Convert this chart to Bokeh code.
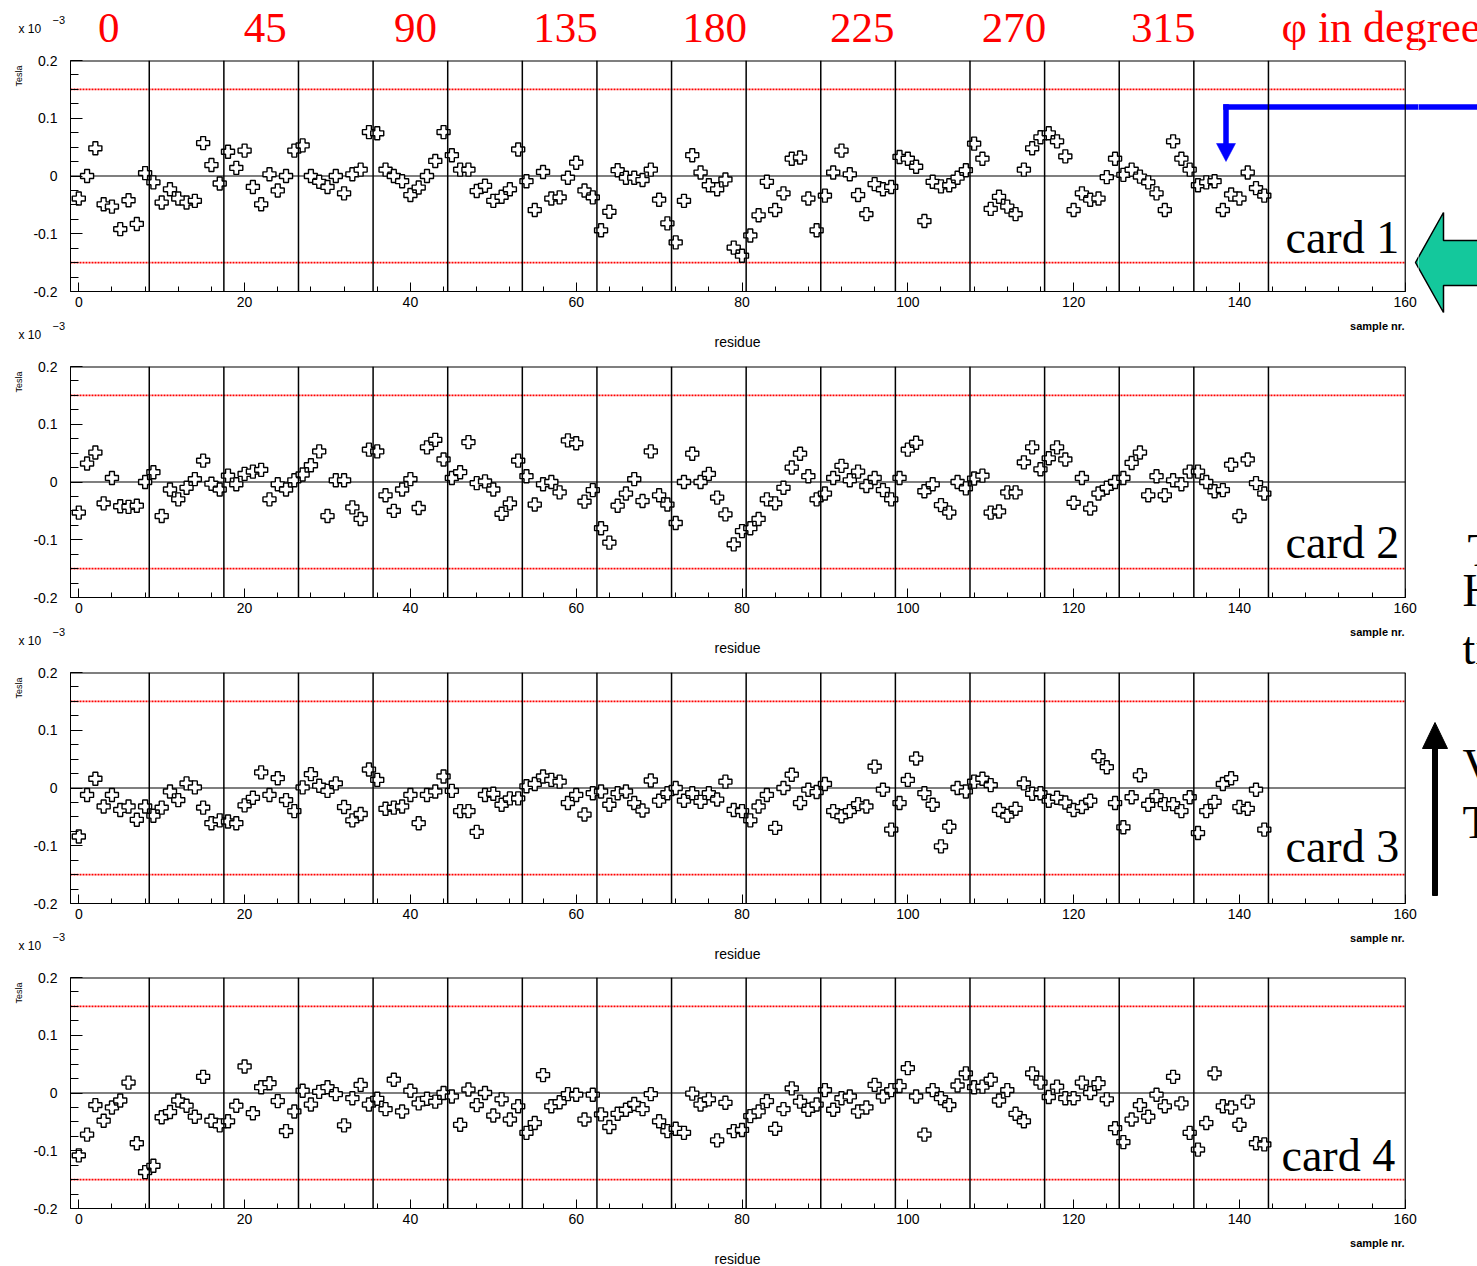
from bokeh.plotting import figure
from bokeh.models import (Span, Label, FixedTicker, Range1d, ColumnDataSource, Title)
from bokeh.layouts import column, row
from bokeh.embed import file_html
from bokeh.resources import INLINE

# ---- data: field residue per sample, in units of 1e-3 Tesla ----
samples = list(range(144))

card1 = [-0.039, 0.0, 0.048, -0.049, -0.053, -0.092, -0.042, -0.083, 0.005, -0.011,
         -0.046, -0.023, -0.039, -0.046, -0.043, 0.057, 0.019, -0.013, 0.042, 0.014,
         0.044, -0.019, -0.049, 0.003, -0.025, 0.0, 0.044, 0.053, 0.0, -0.01,
         -0.019, 0.0, -0.03, 0.003, 0.011, 0.076, 0.074, 0.011, 0.0, -0.009,
         -0.033, -0.02, 0.0, 0.026, 0.076, 0.036, 0.011, 0.011, -0.026, -0.017,
         -0.043, -0.036, -0.023, 0.046, -0.009, -0.059, 0.007, -0.039, -0.037, -0.003,
         0.023, -0.025, -0.037, -0.094, -0.062, 0.01, -0.003, -0.003, -0.007, 0.011,
         -0.041, -0.082, -0.115, -0.043, 0.036, 0.006, -0.016, -0.023, -0.006, -0.124,
         -0.138, -0.103, -0.068, -0.01, -0.059, -0.03, 0.03, 0.032, -0.039, -0.094,
         -0.034, 0.006, 0.044, 0.003, -0.033, -0.066, -0.014, -0.023, -0.019, 0.033,
         0.03, 0.016, -0.078, -0.01, -0.018, -0.016, -0.003, 0.01, 0.056, 0.03,
         -0.057, -0.036, -0.053, -0.066, 0.011, 0.048, 0.067, 0.074, 0.06, 0.034,
         -0.059, -0.03, -0.041, -0.039, -0.002, 0.03, 0.002, 0.011, -0.001, -0.011,
         -0.03, -0.059, 0.06, 0.03, 0.011, -0.016, -0.011, -0.009, -0.059, -0.032,
         -0.039, 0.006, -0.021, -0.034]

card2 = [-0.053, 0.032, 0.051, -0.037, 0.007, -0.042, -0.043, -0.041, 0.0, 0.017,
         -0.059, -0.013, -0.03, -0.01, 0.005, 0.037, -0.003, -0.013, 0.011, -0.004,
         0.014, 0.018, 0.021, -0.03, -0.004, -0.013, 0.003, 0.013, 0.029, 0.053,
         -0.059, 0.003, 0.003, -0.044, -0.064, 0.056, 0.053, -0.023, -0.05, -0.013,
         0.005, -0.045, 0.06, 0.073, 0.039, 0.007, 0.017, 0.069, -0.002, 0.001,
         -0.013, -0.055, -0.037, 0.037, 0.01, -0.039, -0.004, 0.0, -0.018, 0.072,
         0.067, -0.034, -0.014, -0.08, -0.105, -0.041, -0.02, 0.005, -0.033, 0.053,
         -0.023, -0.039, -0.071, 0.0, 0.049, 0.0, 0.014, -0.027, -0.056, -0.108,
         -0.085, -0.08, -0.064, -0.03, -0.037, -0.01, 0.025, 0.049, 0.01, -0.03,
         -0.02, 0.007, 0.028, 0.003, 0.018, -0.007, 0.007, -0.014, -0.03, 0.007,
         0.056, 0.068, -0.016, -0.004, -0.04, -0.053, 0.0, -0.011, 0.006, 0.011,
         -0.053, -0.051, -0.018, -0.018, 0.034, 0.06, 0.022, 0.041, 0.06, 0.039,
         -0.036, 0.007, -0.046, -0.02, -0.01, 0.0, 0.007, 0.033, 0.051, -0.023,
         0.01, -0.023, 0.003, -0.004, 0.018, 0.018, 0.0, -0.016, -0.014, 0.03,
         -0.059, 0.039, -0.002, -0.02]

card3 = [-0.084, -0.012, 0.016, -0.032, -0.012, -0.038, -0.032, -0.055, -0.032, -0.048,
         -0.034, -0.006, -0.021, 0.008, 0.001, -0.034, -0.061, -0.056, -0.058, -0.061,
         -0.03, -0.017, 0.027, -0.012, 0.017, -0.021, -0.04, 0.001, 0.024, 0.004,
         -0.005, 0.008, -0.033, -0.056, -0.045, 0.032, 0.014, -0.036, -0.034, -0.032,
         -0.012, -0.061, -0.012, -0.006, 0.02, -0.005, -0.04, -0.04, -0.076, -0.012,
         -0.01, -0.029, -0.018, -0.018, 0.003, 0.007, 0.02, 0.014, 0.011, -0.026,
         -0.012, -0.046, -0.009, -0.006, -0.029, -0.009, -0.006, -0.026, -0.039, 0.013,
         -0.022, -0.009, 0.0, -0.022, -0.009, -0.024, -0.009, -0.02, 0.011, -0.038,
         -0.04, -0.056, -0.032, -0.012, -0.069, 0.0, 0.023, -0.026, -0.003, -0.007,
         0.007, -0.04, -0.049, -0.04, -0.028, -0.032, 0.037, -0.003, -0.072, -0.026,
         0.014, 0.051, -0.009, -0.029, -0.101, -0.067, 0.0, -0.006, 0.011, 0.016,
         0.005, -0.038, -0.048, -0.036, 0.008, -0.01, -0.009, -0.022, -0.017, -0.025,
         -0.038, -0.033, -0.022, 0.055, 0.036, -0.026, -0.068, -0.016, 0.022, -0.029,
         -0.014, -0.028, -0.028, -0.04, -0.016, -0.078, -0.04, -0.024, 0.007, 0.017,
         -0.033, -0.036, -0.003, -0.072]

card4 = [-0.108, -0.072, -0.021, -0.048, -0.025, -0.013, 0.018, -0.087, -0.137, -0.126,
         -0.042, -0.033, -0.013, -0.022, -0.041, 0.028, -0.048, -0.056, -0.049, -0.022,
         0.046, -0.035, 0.01, 0.017, -0.014, -0.066, -0.032, 0.004, -0.02, 0.002,
         0.01, -0.002, -0.056, -0.009, 0.014, -0.02, -0.01, -0.028, 0.023, -0.032,
         0.004, -0.018, -0.01, -0.015, 0.0, -0.006, -0.055, 0.006, -0.021, 0.0,
         -0.039, -0.011, -0.046, -0.023, -0.069, -0.052, 0.031, -0.023, -0.016, -0.002,
         -0.003, -0.046, -0.003, -0.037, -0.059, -0.036, -0.029, -0.019, -0.028, -0.002,
         -0.049, -0.066, -0.062, -0.069, -0.001, -0.02, -0.011, -0.082, -0.017, -0.066,
         -0.064, -0.04, -0.032, -0.014, -0.062, -0.028, 0.008, -0.015, -0.029, -0.02,
         0.005, -0.029, -0.009, -0.006, -0.032, -0.025, 0.014, -0.006, 0.005, 0.012,
         0.043, -0.006, -0.072, 0.005, -0.009, -0.021, 0.013, 0.034, 0.01, 0.011,
         0.023, -0.013, 0.005, -0.036, -0.049, 0.034, 0.018, -0.007, 0.011, -0.009,
         -0.009, 0.018, 0.0, 0.017, -0.011, -0.061, -0.085, -0.046, -0.021, -0.041,
         -0.003, -0.023, 0.028, -0.018, -0.069, -0.098, -0.052, 0.034, -0.023, -0.025,
         -0.055, -0.015, -0.087, -0.089]

cards = [card1, card2, card3, card4]
card_names = ["card 1", "card 2", "card 3", "card 4"]

# sector boundaries (9 samples per sector) and azimuth labels (one per 2 sectors)
sector_edges = [8.5 + 9 * k for k in range(16)]
phi_labels = ["0", "45", "90", "135", "180", "225", "270", "315"]
phi_label_x = [3.6, 22.5, 40.6, 58.7, 76.7, 94.5, 112.8, 130.8]

x_ticks = [0, 20, 40, 60, 80, 100, 120, 140, 160]
x_minor = list(range(0, 161, 4))
y_ticks = [-0.2, -0.1, 0.0, 0.1, 0.2]
y_tick_text = {-0.2: "-0.2", -0.1: "-0.1", 0.0: "0", 0.1: "0.1", 0.2: "0.2"}
y_minor = [round(-0.2 + 0.025 * k, 3) for k in range(17)]
limit = 0.15
x_lo, x_hi = -1, 160

SANS = "Liberation Sans"
SERIF = "Liberation Serif"

# ---- page geometry (pixels) ----
W = 1477
H = 1266
LEFT = 70            # left border holding the y axis
MAIN_W = 1418        # width of the left column (panel frames run to its right edge)
RIGHT_W = W - MAIN_W
PAD_TOP = 10
FRAME_H = 231
AXIS_H = 26
PANEL_H = PAD_TOP + FRAME_H + AXIS_H
X_SPAN = 162.6
SX = (MAIN_W - LEFT) / X_SPAN        # px per sample
SY = FRAME_H / 0.4                   # px per 1e-3 T
frame_tops = [60, 366, 672, 977]


def px_to_x(px):
    return x_lo + (px - LEFT) / SX


def px_to_y(py, top):
    return 0.2 - (py - top) / SY


def blank(width, height, x_range, y_range):
    f = figure(width=width, height=height, x_range=x_range, y_range=y_range,
               x_axis_type=None, y_axis_type=None, title=None,
               output_backend="svg", toolbar_location=None,
               min_border_left=0, min_border_right=0, min_border_top=0, min_border_bottom=0)
    f.outline_line_color = None
    f.xgrid.visible = False
    f.ygrid.visible = False
    f.background_fill_color = "white"
    f.border_fill_color = "white"
    return f


def text(p, x, y, s, size, font=SANS, color="black", align="left", style="normal"):
    p.add_layout(Label(x=x, y=y, text=s, text_font=font, text_font_size=size,
                       text_color=color, text_align=align, text_baseline="middle",
                       text_font_style=style))


def band(top, bottom):
    """Full-width strip of the left column; x in sample units, y in page pixels."""
    return blank(MAIN_W, bottom - top, Range1d(px_to_x(0), px_to_x(MAIN_W)),
                 Range1d(bottom, top))


def make_panel(idx):
    p = figure(width=MAIN_W, height=PANEL_H,
               x_range=Range1d(x_lo, x_lo + X_SPAN), y_range=Range1d(-0.2, 0.2),
               title=None, output_backend="svg", toolbar_location=None,
               min_border_left=LEFT, min_border_right=0,
               min_border_top=PAD_TOP, min_border_bottom=AXIS_H)
    p.background_fill_color = "white"
    p.border_fill_color = "white"
    p.outline_line_color = None
    p.xgrid.visible = False
    p.ygrid.visible = False

    # axes with inward ticks
    xa = p.xaxis[0]
    xa.bounds = (x_lo, x_hi)
    xa.ticker = FixedTicker(ticks=x_ticks, minor_ticks=x_minor)
    xa.axis_line_color = "black"
    xa.major_tick_in = 9
    xa.major_tick_out = 0
    xa.minor_tick_in = 5
    xa.minor_tick_out = 0
    xa.major_label_standoff = 5
    xa.major_label_text_font = SANS
    xa.major_label_text_font_size = "14px"
    xa.major_label_text_color = "black"

    ya = p.yaxis[0]
    ya.ticker = FixedTicker(ticks=y_ticks, minor_ticks=y_minor)
    ya.major_label_overrides = y_tick_text
    ya.axis_line_color = "black"
    ya.major_tick_in = 12
    ya.major_tick_out = 0
    ya.minor_tick_in = 8
    ya.minor_tick_out = 0
    ya.major_label_standoff = 13
    ya.major_label_text_font = SANS
    ya.major_label_text_font_size = "14px"
    ya.major_label_text_color = "black"

    p.add_layout(Title(text="Tesla", align="right", offset=5, standoff=13,
                       text_font=SANS, text_font_size="9px", text_font_style="normal",
                       text_color="black"), "left")

    # top and right sides of the plot box
    p.segment(x0=[x_lo], y0=[0.2], x1=[x_hi], y1=[0.2], line_color="black", line_width=2)
    p.add_layout(Span(location=x_hi, dimension="height", line_color="black", line_width=1.2))

    # sector boundaries, zero line and the +-0.15 tolerance band
    for xe in sector_edges:
        p.add_layout(Span(location=xe, dimension="height", line_color="black", line_width=1.5))
    p.segment(x0=[x_lo], y0=[0.0], x1=[x_hi], y1=[0.0], line_color="black", line_width=1.2)
    p.segment(x0=[x_lo, x_lo], y0=[limit, -limit], x1=[x_hi, x_hi], y1=[limit, -limit],
              line_color="#ff0000", line_width=1.8, line_dash="2 1")

    src = ColumnDataSource(dict(x=samples, y=cards[idx]))
    p.scatter("x", "y", source=src, marker="plus", size=13,
              fill_color="white", line_color="black", line_width=1.4)

    top = frame_tops[idx]
    cx = px_to_x(1281 if idx == 3 else 1285)
    cy_px = [237, 542, 846, 1155][idx]
    text(p, cx, px_to_y(cy_px, top), card_names[idx], "46px", font=SERIF)
    return p


def multiplier(p, top):
    # "x 10^-3" scale note above a panel
    text(p, px_to_x(18), top - 32, "x 10", "12px")
    text(p, px_to_x(52), top - 41, "\u22123", "11px")


panels = [make_panel(i) for i in range(4)]

# header with the azimuth labels
head = band(0, frame_tops[0] - PAD_TOP)
PHI_X = 1281
for lab, xl in zip(phi_labels, phi_label_x):
    text(head, xl, 27, lab, "43px", font=SERIF, color="#ff0000", align="center")
text(head, px_to_x(PHI_X), 27, "\u03c6 in degrees", "44px", font=SERIF, color="#ff0000")
multiplier(head, frame_tops[0])

# gaps below each panel: axis title, unit note, next panel's multiplier
gaps = []
for i in range(4):
    bot = frame_tops[i] + FRAME_H
    g_top = bot + AXIS_H
    g_bot = frame_tops[i + 1] - PAD_TOP if i < 3 else H
    g = band(g_top, g_bot)
    text(g, px_to_x(737), bot + 50, "residue", "14px", align="center")
    text(g, px_to_x(1404), bot + 34, "sample nr.", "11px", align="right", style="bold")
    if i < 3:
        multiplier(g, frame_tops[i + 1])
    gaps.append(g)

# right-hand margin, in page pixels
side = blank(RIGHT_W, H, Range1d(MAIN_W, W), Range1d(H, 0))
text(side, PHI_X, 27, "\u03c6 in degrees", "44px", font=SERIF, color="#ff0000")

# blue pointer into the last sector of card 1
t1 = frame_tops[0]
BLUE = "#0000ff"
bar_x = [1223, W + 5, W + 5, 1223]
bar_y = [104, 104, 109, 109]
stem_x = [1223, 1228, 1228, 1223]
stem_y = [104, 104, 144, 144]
head_x = [1216, 1235, 1225.5]
head_y = [143, 143, 161]
for xs, ys in ((bar_x, bar_y), (stem_x, stem_y), (head_x, head_y)):
    panels[0].patch([px_to_x(v) for v in xs], [px_to_y(v, t1) for v in ys],
                    fill_color=BLUE, line_color=BLUE, line_width=0.5)
side.patch(bar_x, bar_y, fill_color=BLUE, line_color=BLUE, line_width=0.5)

# green block arrow pointing at card 1
green_x = [1415, 1443, 1443, W + 5, W + 5, 1443, 1443]
green_y = [262, 212, 240, 240, 285, 285, 312]
GREEN = "#14c89c"
panels[0].patch([px_to_x(v) for v in green_x], [px_to_y(v, t1) for v in green_y],
                fill_color=GREEN, line_color="black", line_width=1.5)
side.patch(green_x, green_y, fill_color=GREEN, line_color="black", line_width=1.5)

# upward black arrow beside card 3
side.patch([1432, 1437, 1437, 1432], [895, 895, 744, 744], fill_color="black", line_color="black")
side.patch([1422, 1447, 1434.5], [748, 748, 722], fill_color="black", line_color="black")

# partially visible words at the right edge
text(side, 1467, 550, "T", "46px", font=SERIF)
text(side, 1462, 590, "H", "46px", font=SERIF)
text(side, 1462, 648, "ti", "46px", font=SERIF)
text(side, 1462, 765, "V", "46px", font=SERIF)
text(side, 1462, 822, "T", "46px", font=SERIF)

items = [head]
for i in range(4):
    items.append(row(panels[i], spacing=0))
    items.append(gaps[i])
left_col = column(*items, spacing=0)
layout = row(left_col, column(side, spacing=0), spacing=0)
open("out.html", "w").write(file_html(layout, INLINE))
